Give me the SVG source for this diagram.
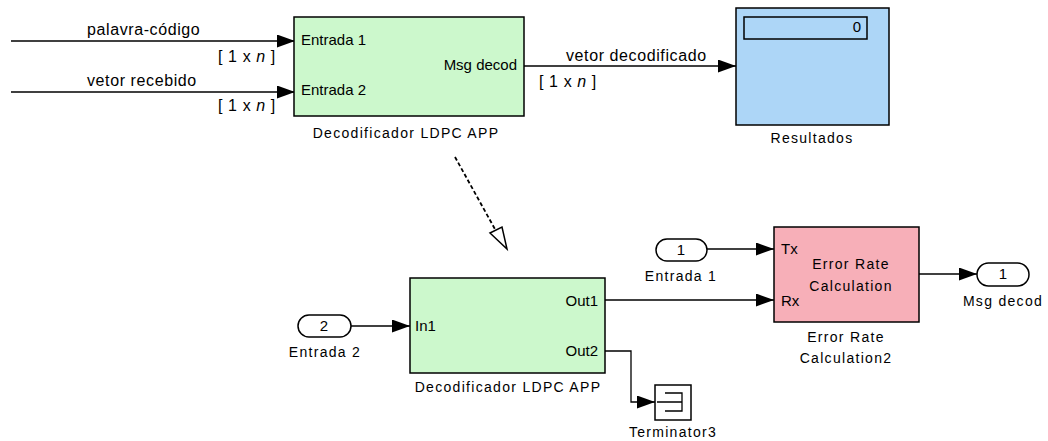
<svg xmlns="http://www.w3.org/2000/svg" width="1048" height="441" viewBox="0 0 1048 441">
  <defs>
    <marker id="arrow" viewBox="0 0 18 13" refX="18" refY="6.5" markerWidth="18" markerHeight="13" markerUnits="userSpaceOnUse" orient="auto">
      <path d="M0,0 L18,6.5 L0,13 z" fill="#000"/>
    </marker>
    <style>
      .blk { stroke: #000; stroke-width: 1.5; }
      .green { fill: #ccf8cc; }
      .blue { fill: #add6f7; }
      .pink { fill: #f7afb8; }
      .port { fill: #fff; stroke: #000; stroke-width: 1.5; }
      .wire { fill: none; stroke: #000; stroke-width: 1.3; marker-end: url(#arrow); }
      .sig { font-family: "Liberation Sans", Arial, sans-serif; font-size: 16px; letter-spacing: 0.6px; fill: #000; }
      .pl { font-family: "Liberation Sans", Arial, sans-serif; font-size: 15px; fill: #000; }
      .name { font-family: "Liberation Sans", Arial, sans-serif; font-size: 14px; letter-spacing: 1.3px; fill: #000; text-anchor: middle; }
    </style>
  </defs>

  <!-- signal lines -->
  <g id="connectors">
    <path class="wire" d="M11,41 H295"/>
    <path class="wire" d="M11,92 H295"/>
    <path class="wire" d="M524,66 H736"/>
    <path class="wire" d="M351,326 H410"/>
    <path class="wire" d="M605,300 H774"/>
    <path class="wire" d="M707,249 H774"/>
    <path class="wire" d="M919,274 H977"/>
    <path class="wire" d="M605,351 H631 V402 H655"/>
    <!-- expansion hint: subsystem contents -->
    <path d="M455,157 L496,231" fill="none" stroke="#000" stroke-width="1.8" stroke-dasharray="4,2.5"/>
    <polygon points="490,233 502,227 507,249" fill="#fff" stroke="#000" stroke-width="1.5" stroke-linejoin="miter"/>
  </g>

  <!-- signal labels -->
  <g id="signal-labels">
    <text class="sig" x="87" y="35">palavra-código</text>
    <text class="sig" x="218" y="62">[ 1 x <tspan font-style="italic">n</tspan> ]</text>
    <text class="sig" x="87" y="86">vetor recebido</text>
    <text class="sig" x="218" y="111">[ 1 x <tspan font-style="italic">n</tspan> ]</text>
    <text class="sig" x="566" y="61">vetor decodificado</text>
    <text class="sig" x="539" y="87">[ 1 x <tspan font-style="italic">n</tspan> ]</text>
  </g>

  <!-- top subsystem -->
  <g id="decodificador-top">
    <rect class="blk green" x="294" y="17" width="230" height="99"/>
    <text class="pl" x="301" y="45">Entrada 1</text>
    <text class="pl" x="301" y="95">Entrada 2</text>
    <text class="pl" x="517" y="70" text-anchor="end">Msg decod</text>
    <text class="name" x="406" y="138">Decodificador LDPC APP</text>
  </g>

  <!-- display block -->
  <g id="resultados">
    <rect class="blk blue" x="736" y="8" width="153" height="117"/>
    <rect class="blk blue" x="744" y="17" width="123" height="22"/>
    <text class="pl" x="861" y="32" text-anchor="end" font-size="14">0</text>
    <text class="name" x="812" y="143">Resultados</text>
  </g>

  <!-- subsystem contents -->
  <g id="entrada2">
    <rect class="port" x="298" y="315" width="53" height="22" rx="11" ry="11"/>
    <text class="pl" x="324" y="331" text-anchor="middle" font-size="14">2</text>
    <text class="name" x="325" y="357">Entrada 2</text>
  </g>

  <g id="decodificador-inner">
    <rect class="blk green" x="410" y="278" width="195" height="95"/>
    <text class="pl" x="415" y="331">In1</text>
    <text class="pl" x="598" y="306" text-anchor="end">Out1</text>
    <text class="pl" x="598" y="356" text-anchor="end">Out2</text>
    <text class="name" x="508" y="392">Decodificador LDPC APP</text>
  </g>

  <g id="entrada1">
    <rect class="port" x="656" y="239" width="51" height="22" rx="11" ry="11"/>
    <text class="pl" x="681" y="255" text-anchor="middle" font-size="14">1</text>
    <text class="name" x="681" y="281">Entrada 1</text>
  </g>

  <g id="error-rate">
    <rect class="blk pink" x="774" y="227" width="145" height="95"/>
    <text class="pl" x="781" y="254">Tx</text>
    <text class="pl" x="781" y="306">Rx</text>
    <text class="name" x="851" y="269">Error Rate</text>
    <text class="name" x="851" y="291">Calculation</text>
    <text class="name" x="846" y="342">Error Rate</text>
    <text class="name" x="846" y="363">Calculation2</text>
  </g>

  <g id="msg-decod">
    <rect class="port" x="977" y="263" width="52" height="23" rx="11.5" ry="11.5"/>
    <text class="pl" x="1003" y="279" text-anchor="middle" font-size="14">1</text>
    <text class="name" x="1003" y="306">Msg decod</text>
  </g>

  <g id="terminator3">
    <rect x="655" y="385" width="36" height="35" fill="#fff" stroke="#000" stroke-width="1.5"/>
    <path d="M665,393 H682 V411 H665 M657,402 H682" fill="none" stroke="#000" stroke-width="1.3"/>
    <text class="name" x="673" y="437">Terminator3</text>
  </g>
</svg>
